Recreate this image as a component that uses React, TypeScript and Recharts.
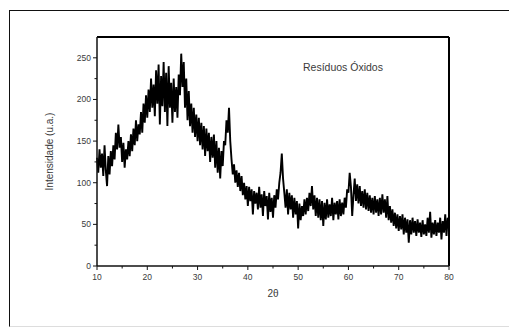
import { LineChart, Line, XAxis, YAxis, ReferenceLine } from 'recharts'

// scan settings of the diffractogram (degrees 2θ)
const scanStart = 10
const scanStep = 0.25

// intensities, 20 points (5°) per row
const intensities: number[] = [
  130, 112, 140, 118, 135, 108, 145, 115, 96, 132, 110, 138, 120, 145, 128, 160, 140, 170, 142, 155,
  125, 148, 118, 140, 128, 150, 132, 158, 138, 165, 145, 175, 150, 170, 158, 185, 160, 195, 172, 205,
  178, 212, 185, 225, 190, 218, 180, 235, 195, 242, 170, 228, 192, 245, 185, 232, 168, 240, 190, 220,
  172, 225, 185, 215, 178, 230, 205, 255, 215, 245, 190, 225, 175, 210, 168, 195, 160, 190, 155, 182,
  150, 178, 145, 172, 140, 168, 132, 165, 138, 160, 125, 155, 130, 158, 118, 150, 112, 142, 105, 138,
  120, 150, 145, 175, 160, 190, 150, 128, 110, 122, 100, 115, 95, 112, 90, 108, 85, 100, 80, 96,
  72, 95, 78, 92, 62, 90, 75, 88, 68, 95, 70, 86, 60, 90, 72, 84, 56, 88, 65, 82,
  58, 85, 70, 92, 80, 100, 112, 135, 105, 88, 70, 92, 62, 88, 68, 85, 58, 82, 62, 78,
  45, 75, 55, 72, 60, 80, 62, 82, 66, 88, 72, 96, 68, 85, 60, 82, 58, 80, 55, 78,
  48, 76, 56, 80, 58, 74, 60, 82, 55, 76, 62, 78, 56, 80, 60, 76, 62, 82, 70, 92,
  88, 112, 95, 60, 85, 105, 78, 98, 75, 96, 72, 90, 70, 92, 68, 88, 66, 85, 64, 82,
  62, 84, 64, 80, 60, 82, 62, 86, 64, 80, 58, 84, 55, 72, 52, 68, 48, 64, 45, 62,
  42, 60, 44, 62, 38, 58, 40, 56, 28, 55, 38, 58, 40, 54, 36, 56, 40, 52, 35, 55,
  38, 50, 36, 58, 40, 65, 34, 52, 38, 55, 36, 52, 40, 58, 32, 54, 40, 62, 36, 58,
  45,
]

const xTicks = [10, 15, 20, 25, 30, 35, 40, 45, 50, 55, 60, 65, 70, 75, 80]
const yTicks = [0, 25, 50, 75, 100, 125, 150, 175, 200, 225, 250]

const data = intensities.map((v, i) => ({ twoTheta: scanStart + i * scanStep, intensity: v }))

const FONT = '"Liberation Sans", Arial, sans-serif'

const YTick = ({ x, y, payload }: any) => {
  const major = payload.value % 50 === 0
  return (
    <g>
      <line x1={x} x2={x - (major ? 4 : 2.5)} y1={y} y2={y} stroke="#111" strokeWidth={1} />
      {major && (
        <text x={x - 6} y={y} dy={3} textAnchor="end" fontSize={8.5} fill="#3a3a3a" fontFamily={FONT}>
          {payload.value}
        </text>
      )}
    </g>
  )
}

const XTick = ({ x, y, payload }: any) => {
  const major = payload.value % 10 === 0
  return (
    <g>
      <line x1={x} x2={x} y1={y} y2={y + (major ? 4 : 2.5)} stroke="#111" strokeWidth={1} />
      {major && (
        <text x={x} y={y + 14} textAnchor="middle" fontSize={8.5} fill="#3a3a3a" fontFamily={FONT}>
          {payload.value}
        </text>
      )}
    </g>
  )
}

export default function App() {
  return (
    <div style={{ position: 'absolute', left: 0, top: 0, width: 509, height: 327, background: '#fff', overflow: 'hidden' }}>
      <div
        style={{
          position: 'absolute',
          left: 9,
          top: 10,
          width: 520,
          height: 315,
          borderLeft: '1.5px solid #111',
          borderTop: '1.5px solid #111',
          borderBottom: '1px solid #ddd',
        }}
      />
      <div style={{ position: 'absolute', left: 0, top: 0 }}>
        <LineChart
          width={509}
          height={327}
          data={data}
          margin={{ top: 37, right: 60, left: 37, bottom: 31 }}
          style={{ fontFamily: FONT }}
        >
          <XAxis
            dataKey="twoTheta"
            type="number"
            domain={[10, 80]}
            ticks={xTicks}
            interval={0}
            tick={<XTick />}
            tickLine={false}
            tickSize={0}
            tickMargin={0}
            height={30}
            axisLine={{ stroke: '#111', strokeWidth: 1.5 }}
            label={{ value: '2θ', position: 'insideBottom', offset: -1, fontSize: 10, fill: '#3a3a3a' }}
          />
          <YAxis
            type="number"
            domain={[0, 275]}
            ticks={yTicks}
            interval={0}
            tick={<YTick />}
            tickLine={false}
            tickSize={0}
            tickMargin={0}
            width={60}
            axisLine={{ stroke: '#111', strokeWidth: 1.5 }}
            label={{
              value: 'Intensidade (u.a.)',
              angle: -90,
              position: 'insideLeft',
              offset: 12,
              fontSize: 10,
              fill: '#3a3a3a',
              style: { textAnchor: 'middle' },
            }}
          />
          {/* top and right edges of the plot frame */}
          <ReferenceLine y={275} stroke="#000" strokeWidth={2} ifOverflow="visible" />
          <ReferenceLine x={80} stroke="#000" strokeWidth={2} ifOverflow="visible" />
          <Line
            type="linear"
            dataKey="intensity"
            stroke="#000"
            strokeWidth={1.9}
            dot={false}
            isAnimationActive={false}
          />
        </LineChart>
      </div>
      <div
        style={{
          position: 'absolute',
          left: 303,
          top: 61,
          fontFamily: FONT,
          fontSize: 10.5,
          color: '#3a3a3a',
          whiteSpace: 'nowrap',
        }}
      >
        Resíduos Óxidos
      </div>
    </div>
  )
}
